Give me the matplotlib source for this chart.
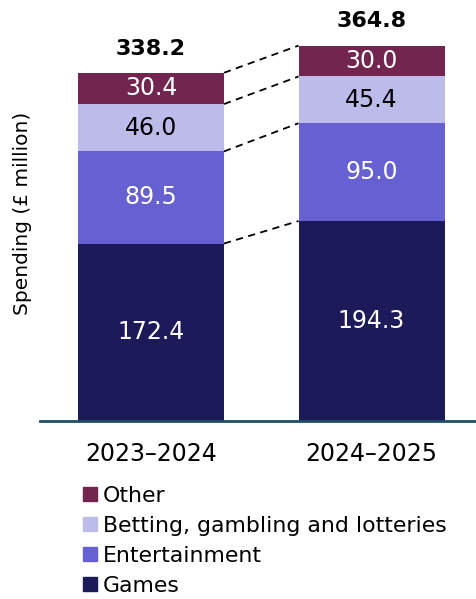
import matplotlib.pyplot as plt
from matplotlib.patches import Patch

plt.rcParams['font.family'] = ['DejaVu Sans']

years = ['2023–2024', '2024–2025']
categories = ['Games', 'Entertainment', 'Betting, gambling and lotteries', 'Other']
games = [172.4, 194.3]
entertainment = [89.5, 95.0]
betting = [46.0, 45.4]
other = [30.4, 30.0]
totals = [338.2, 364.8]

colors = ['#1d1a5a', '#6660d0', '#bdbbea', '#72264f']
text_colors = ['white', 'white', 'black', 'white']
series = [games, entertainment, betting, other]

fig = plt.figure(figsize=(4.77, 5.99), dpi=100)
ax = fig.add_axes([40 / 477, (599 - 421) / 599, 437 / 477, 421 / 599])

x = [0, 1]
width = 0.662
bottoms = [0, 0]
tops = []
for vals, col, tcol in zip(series, colors, text_colors):
    ax.bar(x, vals, width, bottom=bottoms, color=col, edgecolor='none')
    for i in x:
        ax.text(i, bottoms[i] + vals[i] / 2, f'{vals[i]:.1f}', ha='center', va='center',
                color=tcol, fontsize=17)
    bottoms = [b + v for b, v in zip(bottoms, vals)]
    tops.append(list(bottoms))

# dashed connectors between segment tops
for t in tops:
    ax.plot([x[0] + width / 2, x[1] - width / 2], [t[0], t[1]], ls=(0, (4, 3)),
            color='black', lw=1.3)

for i in x:
    ax.text(i, totals[i] + 23.5, f'{totals[i]:.1f}', ha='center', va='center',
            fontsize=16, fontweight='bold')

ax.set_xlim(-0.503, 1.478)
ax.set_ylim(0, 409)
ax.set_yticks([])
ax.set_xticks(x)
ax.set_xticklabels(years, fontsize=17)
ax.tick_params(axis='x', length=0, pad=15)
for s in ['top', 'right', 'left']:
    ax.spines[s].set_visible(False)
ax.spines['bottom'].set_color('#1f4e66')
ax.spines['bottom'].set_linewidth(2)

fig.text(23 / 477, 1 - 213 / 599, 'Spending (£ million)', rotation=90, ha='center',
         va='center', fontsize=14.5)

handles = [Patch(color=c, label=l) for c, l in zip(colors, categories)][::-1]
fig.legend(handles=handles, loc='upper left', bbox_to_anchor=(83 / 477, 1 - 486 / 599),
           frameon=False, fontsize=15.8, handlelength=0.63, handleheight=0.63,
           handletextpad=0.27, labelspacing=0.45, borderaxespad=0, borderpad=0)

fig.savefig('out.png', dpi=100)
